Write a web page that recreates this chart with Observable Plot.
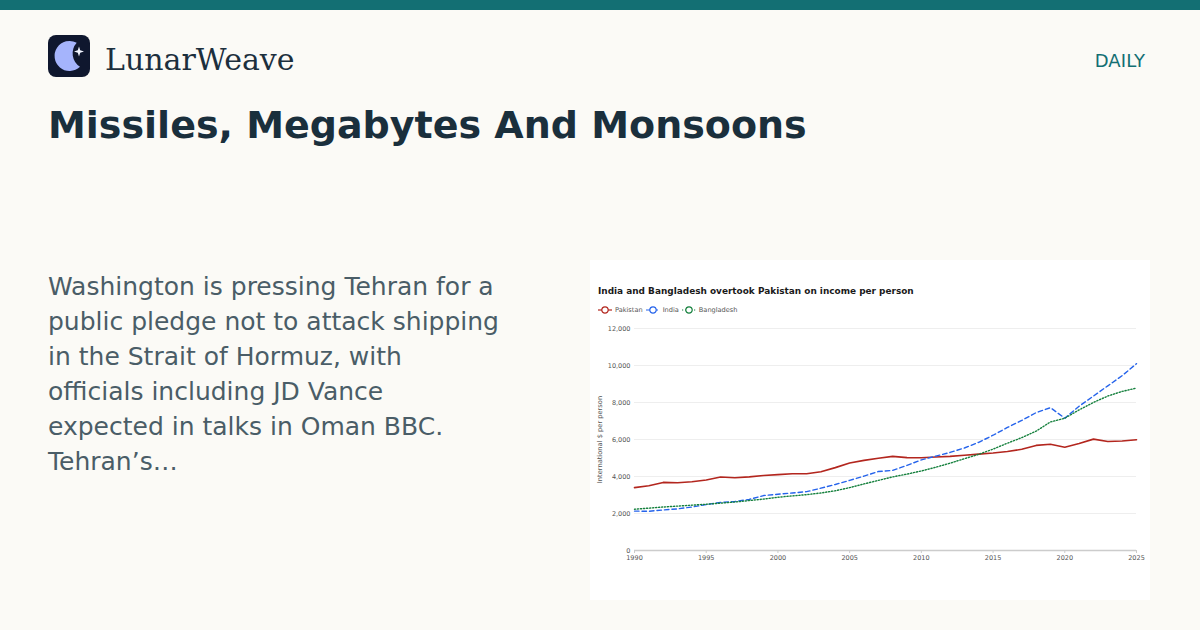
<!DOCTYPE html>
<html><head><meta charset="utf-8">
<script src="https://cdn.jsdelivr.net/npm/d3@7"></script>
<script src="https://cdn.jsdelivr.net/npm/@observablehq/plot@0.6"></script>
<style>
html,body{margin:0;padding:0}
body{width:1200px;height:630px;background:#fbfaf6;position:relative;overflow:hidden;font-family:"DejaVu Sans",sans-serif}
#bar{position:absolute;left:0;top:0;width:1200px;height:10px;background:#136f73}
#logo{position:absolute;left:48px;top:35px}
#brand{position:absolute;left:105px;top:41px;font:30px/38px "DejaVu Serif",serif;color:#1c2f3d;white-space:nowrap}
#daily{position:absolute;right:55px;top:49px;font:18px/24px "DejaVu Sans",sans-serif;letter-spacing:.1px;color:#136f73}
#head{position:absolute;left:48px;top:101px;margin:0;font:bold 38px/48px "DejaVu Sans",sans-serif;color:#1a2f3c;white-space:nowrap}
#desc{position:absolute;left:48px;top:269px;width:480px;margin:0;font:25px/35px "DejaVu Sans",sans-serif;color:#4a5d67;white-space:nowrap}
#card{position:absolute;left:590px;top:260px;width:560px;height:340px;background:#fff}
#card svg.plot{position:absolute;left:0;top:0}
#ctitle{position:absolute;left:8px;top:25px;font:bold 8.93px/12px "DejaVu Sans",sans-serif;color:#1a1a1a;white-space:nowrap}
#legend{position:absolute;left:8px;top:45px;height:10px;display:flex;align-items:center;font:6.6px/10px "DejaVu Sans",sans-serif;color:#555;white-space:nowrap}
#legend span{display:flex;align-items:center;margin-right:3px}
#legend svg{margin-right:3px}
</style></head>
<body>
<div id="bar"></div>
<svg id="logo" width="42" height="42" viewBox="0 0 42 42">
<rect width="42" height="42" rx="8" fill="#0f172e"/>
<path d="M28.7 7.7 A15 15 0 1 0 32 31.7 A15.8 15.8 0 0 1 28.7 7.7 Z" fill="#a5b4fc"/>
<path d="M31 11.5 L32.2 15.3 L36 16.5 L32.2 17.7 L31 21.5 L29.8 17.7 L26 16.5 L29.8 15.3 Z" fill="#f1f5ff"/>
</svg>
<div id="brand">LunarWeave</div>
<div id="daily">DAILY</div>
<h1 id="head">Missiles, Megabytes And Monsoons</h1>
<p id="desc">Washington is pressing Tehran for a<br>public pledge not to attack shipping<br>in the Strait of Hormuz, with<br>officials including JD Vance<br>expected in talks in Oman BBC.<br>Tehran’s…</p>
<div id="card">
<div id="ctitle">India and Bangladesh overtook Pakistan on income per person</div>
<div id="legend"></div>
</div>
<script>
const years = d3.range(1990, 2026);
const pakistan = [3400,3500,3680,3660,3720,3810,3970,3930,3980,4050,4100,4150,4150,4260,4480,4730,4870,4990,5090,5020,5010,5050,5090,5150,5210,5270,5350,5470,5680,5740,5580,5780,6020,5890,5920,5990];
const india = [2130,2120,2190,2250,2350,2480,2600,2650,2760,2970,3040,3110,3180,3370,3570,3790,4020,4270,4330,4600,4900,5100,5300,5540,5850,6230,6650,7030,7450,7720,7150,7800,8350,8900,9450,10100];
const bangladesh = [2230,2290,2350,2400,2450,2500,2560,2620,2700,2780,2880,2950,3020,3110,3230,3400,3600,3790,3980,4130,4300,4500,4720,4960,5200,5480,5800,6100,6450,6950,7150,7600,8000,8350,8600,8780];
const seriesNames = ["Pakistan","India","Bangladesh"];
const seriesColors = ["#b3261e","#2563eb","#15803d"];
const seriesDash = [null,"4.5 3","1.2 1.8"];
const yTicks = [0,2000,4000,6000,8000,10000,12000];
const xTicks = [1990,1995,2000,2005,2010,2015,2020,2025];
const yLabel = "International $ per person";

const rows = s => years.map((year,i)=>({year,value:s[i]}));
const all = [pakistan,india,bangladesh];
const fmt = d3.format(",");
const chart = Plot.plot({
  width:560,height:340,marginLeft:44,marginRight:14,marginTop:68,marginBottom:50,
  style:{background:"transparent",fontFamily:'"DejaVu Sans",sans-serif',overflow:"visible"},
  x:{domain:[1990,2025]},
  y:{domain:[0,12000]},
  marks:[
    Plot.gridY(yTicks,{stroke:"#eeeeee",strokeOpacity:1,strokeWidth:1}),
    Plot.ruleY([0],{stroke:"#cccccc",strokeWidth:1.5}),
    Plot.axisX(xTicks,{tickSize:3,tickPadding:2,tickFormat:d=>String(d),fontSize:6.5,stroke:"#cccccc",label:null,fill:"#555"}),
    Plot.axisY(yTicks,{tickSize:0,tickPadding:4,tickFormat:fmt,fontSize:6.5,fill:"#555",label:null}),
    Plot.text([yLabel],{frameAnchor:"left",textAnchor:"middle",rotate:-90,dx:-35,fontSize:6.7,fill:"#555"}),
    ...all.map((s,i)=>Plot.line(rows(s),{x:"year",y:"value",curve:"linear",stroke:seriesColors[i],strokeWidth:i==0?1.6:1.4,strokeDasharray:seriesDash[i]}))
  ]
});
document.getElementById("card").appendChild(chart);
const legend = document.getElementById("legend");
seriesNames.forEach((n,i)=>{
  const el=document.createElement("span");
  const dash=seriesDash[i]?`stroke-dasharray="${seriesDash[i]}"`:"";
  el.innerHTML=`<svg width="14" height="8" viewBox="0 0 14 8"><line x1="0" x2="14" y1="4" y2="4" stroke="${seriesColors[i]}" stroke-width="1.2" ${dash}/><circle cx="7" cy="4" r="3.2" fill="#fff" stroke="${seriesColors[i]}" stroke-width="1.2"/></svg>${n}`;
  legend.appendChild(el);
});
</script>
</body></html>
